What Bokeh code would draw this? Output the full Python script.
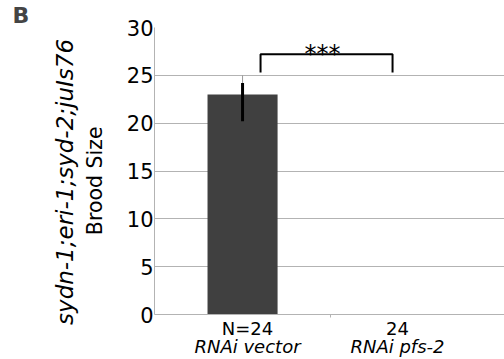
from bokeh.plotting import figure
from bokeh.models import Range1d, FixedTicker, Label, LinearAxis, CustomJSTickFormatter
from bokeh.embed import file_html
from bokeh.resources import INLINE

# ---- data ----
categories = ["RNAi vector", "RNAi pfs-2"]
n_labels = ["N=24", "24"]
cat_x = [1, 2]
brood_mean = [23.0, 0.0]
err_low = [20.2, 0.0]
err_high = [24.2, 0.0]
err_whisker = [25.0, 0.0]
y_ticks = [0, 5, 10, 15, 20, 25, 30]
sig_x = [1.12, 2.0]
sig_base = 25.3
sig_top = 27.2
sig_text = "***"
ylabel_genotype = "sydn-1;eri-1;syd-2;juIs76"
ylabel_measure = "Brood Size"
panel_letter = "B"

FONT = "DejaVu Sans"
GRAY = "#b3b3b3"
PAD = "\u00a0"  # non-breaking spaces used to nudge the rotated titles downward

x_start = cat_x[0] - 0.587
x_end = x_start + 350 / 150
label_shift = 0.033  # small horizontal shift of the category labels

p = figure(width=504, height=359, output_backend="svg", toolbar_location=None,
           x_range=Range1d(x_start, x_end), y_range=Range1d(0, 30),
           min_border_left=154, min_border_right=0, min_border_top=26,
           min_border_bottom=45, title=panel_letter)
p.outline_line_color = None
p.background_fill_color = "white"
p.border_fill_color = "white"

p.title.text_font = FONT
p.title.text_font_size = "22px"
p.title.text_font_style = "bold"
p.title.align = "left"
p.title.offset = -142
p.title.standoff = 0

# y axis (tick labels + "Brood Size")
p.yaxis.ticker = FixedTicker(ticks=y_ticks)
p.yaxis.axis_line_color = GRAY
p.yaxis.major_tick_line_color = None
p.yaxis.minor_tick_line_color = None
p.yaxis.major_tick_out = 0
p.yaxis.major_label_standoff = 1
p.yaxis.major_label_text_font = FONT
p.yaxis.major_label_text_font_size = "21px"
p.yaxis.major_label_text_color = "black"
p.yaxis.axis_label = ylabel_measure + PAD * 3
p.yaxis.axis_label_text_font = FONT
p.yaxis.axis_label_text_font_size = "20.5px"
p.yaxis.axis_label_text_font_style = "normal"
p.yaxis.axis_label_text_color = "black"
p.yaxis.axis_label_standoff = 17

# outer left axis carrying the genotype title only
geno_axis = LinearAxis(ticker=FixedTicker(ticks=[]), axis_line_color=None,
                       major_tick_line_color=None, minor_tick_line_color=None,
                       major_tick_out=0, minor_tick_out=0,
                       axis_label=ylabel_genotype + PAD * 3, axis_label_text_font=FONT,
                       axis_label_text_font_size="23px",
                       axis_label_text_font_style="italic",
                       axis_label_text_color="black", axis_label_standoff=2)
p.add_layout(geno_axis, "left")

# x axis: N labels, with a small minor tick between categories
p.xaxis.ticker = FixedTicker(ticks=[c + label_shift for c in cat_x],
                             minor_ticks=[2 * cat_x[0] - x_start])
p.xaxis.formatter = CustomJSTickFormatter(args=dict(labels=n_labels),
                                          code="return labels[index];")
p.xaxis.axis_line_color = GRAY
p.xaxis.major_tick_line_color = None
p.xaxis.major_tick_out = 0
p.xaxis.minor_tick_line_color = GRAY
p.xaxis.minor_tick_out = 3
p.xaxis.minor_tick_in = 0
p.xaxis.major_label_standoff = 0
p.xaxis.major_label_text_font = FONT
p.xaxis.major_label_text_font_size = "18px"
p.xaxis.major_label_text_color = "black"

# second bottom axis: category names (italic)
cat_axis = LinearAxis(ticker=FixedTicker(ticks=[c + label_shift for c in cat_x]),
                      formatter=CustomJSTickFormatter(args=dict(labels=categories),
                                                      code="return labels[index];"),
                      axis_line_color=None, major_tick_line_color=None,
                      minor_tick_line_color=None, major_tick_out=0, minor_tick_out=0,
                      major_label_standoff=-6, major_label_text_font=FONT,
                      major_label_text_font_size="18px",
                      major_label_text_font_style="italic",
                      major_label_text_color="black")
p.add_layout(cat_axis, "below")

p.xgrid.grid_line_color = None
p.ygrid.grid_line_color = GRAY
p.ygrid.grid_line_width = 1

# bars
p.vbar(x=cat_x, top=brood_mean, width=0.467, color="#404040", line_color=None)

# error bars (only where a bar exists)
idx = [i for i, m in enumerate(brood_mean) if m > 0]
p.segment(x0=[cat_x[i] for i in idx], y0=[err_high[i] for i in idx],
          x1=[cat_x[i] for i in idx], y1=[err_whisker[i] for i in idx],
          line_color="#999999", line_width=1)
p.segment(x0=[cat_x[i] for i in idx], y0=[err_low[i] for i in idx],
          x1=[cat_x[i] for i in idx], y1=[err_high[i] for i in idx],
          line_color="black", line_width=3)

# significance bracket
p.line(x=[sig_x[0], sig_x[0], sig_x[1], sig_x[1]],
       y=[sig_base, sig_top, sig_top, sig_base], line_color="black", line_width=2)
p.add_layout(Label(x=(sig_x[0] + sig_x[1]) / 2, y=sig_top, y_offset=0, x_offset=-4,
                   text=sig_text, text_align="center", text_baseline="alphabetic",
                   text_font=FONT, text_font_size="24px", text_color="black"))

open("out.html", "w").write(file_html(p, INLINE))
